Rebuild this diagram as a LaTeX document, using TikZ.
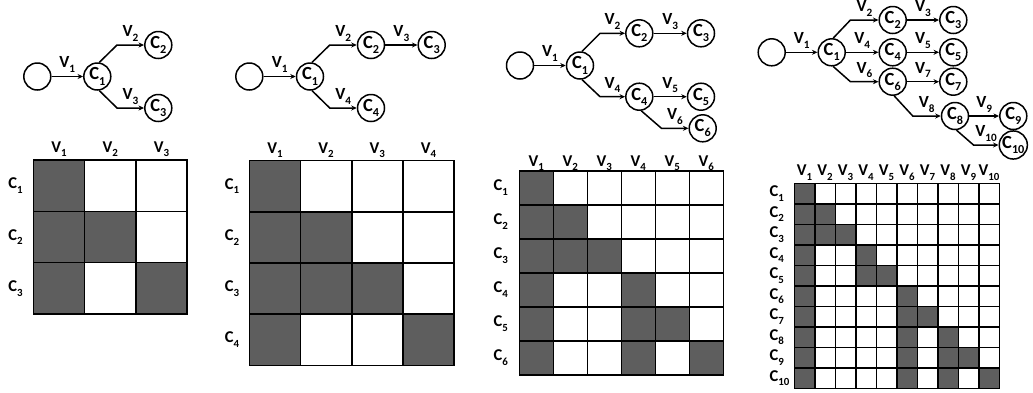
\documentclass[tikz,border=0pt]{standalone}
\usepackage{fontspec}
\setmainfont{Carlito}[BoldFont={Carlito Bold}]
\usetikzlibrary{arrows.meta}
\definecolor{cellgray}{RGB}{94,94,94}
% letter with a lowered, smaller index
\newcommand\ix[3][0.66]{\textbf{#2}\raisebox{-0.28em}{\scalebox{#1}{\textbf{#3}}}}
% matrix: x0, y0, cell size, order, filled cells row/col, prefix, header gap
\newcommand\drawmat[7]{%
  \foreach \r/\c in {#5}
    \fill[cellgray] ({#1+(\c-1)*#3},{#2+(\r-1)*#3}) rectangle ++(#3,#3);
  \foreach \i in {0,...,#4} {
    \draw[gridline] ({#1+\i*#3},#2) -- ++(0,{#4*#3});
    \draw[gridline] (#1,{#2+\i*#3}) -- ++({#4*#3},0);
  }
  \foreach \i in {1,...,#4}
    \node[mlab,anchor=base] (#6v\i) at ({#1+(\i-0.5)*#3},{#2-#7}) {\ix{V}{\i}};
}
\tikzset{
  x=1pt, y=-1pt,
  state/.style={circle, draw, line width=1.5pt, minimum size=27pt, inner sep=0pt,
    font=\fontsize{18.5}{18.5}\selectfont\bfseries},
  arr/.style={line width=1.5pt, -{Stealth[length=5.5pt,width=5pt]}},
  lab/.style={above, inner sep=0pt, yshift=3pt, font=\fontsize{17}{17}\selectfont\bfseries},
  mlab/.style={font=\fontsize{16.5}{16.5}\selectfont\bfseries, inner sep=0pt},
  gridline/.style={line width=1.6pt, line cap=rect},
}
\begin{document}
\begin{tikzpicture}
\useasboundingbox (0,0) rectangle (1033,392);

% ---------- first tree ----------
\node[state] (a0) at (37.3,76.5) {};
\node[state] (a1) at (97.3,76.5) {\ix{C}{1}};
\node[state] (a2) at (158.3,45) {\ix{C}{2}};
\node[state] (a3) at (158.3,108) {\ix{C}{3}};
\draw[arr] (a0) -- node[lab]{\ix{V}{1}} (a1);
\draw[arr] (a1.82) -- ([xshift=-27pt]a2.west) -- node[lab]{\ix{V}{2}} (a2.west);
\draw[arr] (a1.-82) -- ([xshift=-27pt]a3.west) -- node[lab]{\ix{V}{3}} (a3.west);

\drawmat{33.3}{160}{51.33}{3}{1/1,2/1,2/2,3/1,3/3}{am}{8}
\foreach \i in {1,...,3}
  \node[mlab] (amc\i) at (15.5,{160+(\i-0.5)*51.33}) {\ix{C}{\i}};

% ---------- second tree ----------
\node[state] (b0) at (249.3,76.5) {};
\node[state] (b1) at (310,76.5) {\ix{C}{1}};
\node[state] (b2) at (371,45) {\ix{C}{2}};
\node[state] (b3) at (431.7,45) {\ix{C}{3}};
\node[state] (b4) at (371,108) {\ix{C}{4}};
\draw[arr] (b0) -- node[lab]{\ix{V}{1}} (b1);
\draw[arr] (b1.82) -- ([xshift=-27pt]b2.west) -- node[lab]{\ix{V}{2}} (b2.west);
\draw[arr] (b2) -- node[lab]{\ix{V}{3}} (b3);
\draw[arr] (b1.-82) -- ([xshift=-27pt]b4.west) -- node[lab]{\ix{V}{4}} (b4.west);

\drawmat{249.3}{160.5}{51.2}{4}{1/1,2/1,2/2,3/1,3/2,3/3,4/1,4/4}{bm}{7.5}
\foreach \i in {1,...,4}
  \node[mlab] (bmc\i) at (232,{160.5+(\i-0.5)*51.2}) {\ix{C}{\i}};

% ---------- third tree ----------
\node[state] (c0) at (520,65.5) {};
\node[state] (c1) at (580,65.5) {\ix{C}{1}};
\node[state] (c2) at (639.3,33.3) {\ix{C}{2}};
\node[state] (c3) at (701,33.3) {\ix{C}{3}};
\node[state] (c4) at (639.3,96.7) {\ix{C}{4}};
\node[state] (c5) at (701,96.7) {\ix{C}{5}};
\node[state] (c6) at (702.7,128.3) {\ix{C}{6}};
\draw[arr] (c0) -- node[lab]{\ix{V}{1}} (c1);
\draw[arr] (c1.82) -- ([xshift=-25pt]c2.west) -- node[lab]{\ix{V}{2}} (c2.west);
\draw[arr] (c2) -- node[lab]{\ix{V}{3}} (c3);
\draw[arr] (c1.-82) -- ([xshift=-25pt]c4.west) -- node[lab]{\ix{V}{4}} (c4.west);
\draw[arr] (c4) -- node[lab]{\ix{V}{5}} (c5);
\draw[arr] (c4.-82) -- ([xshift=-27pt]c6.west) -- node[lab]{\ix{V}{6}} (c6.west);

\drawmat{519.3}{170.7}{34}{6}{1/1,2/1,2/2,3/1,3/2,3/3,4/1,4/4,5/1,5/4,5/5,6/1,6/4,6/6}{cm}{4.5}
\foreach \i in {1,...,6}
  \node[mlab] (cmc\i) at (500.7,{170.7+(\i-0.5)*34}) {\ix{C}{\i}};

% ---------- fourth tree ----------
\node[state] (d0) at (771.7,52.3) {};
\node[state] (d1) at (831.7,52.3) {\ix{C}{1}};
\node[state] (d2) at (892.7,20) {\ix{C}{2}};
\node[state] (d3) at (953.3,20) {\ix{C}{3}};
\node[state] (d4) at (892.7,52.3) {\ix{C}{4}};
\node[state] (d5) at (953.3,52.3) {\ix{C}{5}};
\node[state] (d6) at (892.7,81.7) {\ix{C}{6}};
\node[state] (d7) at (953.3,81.7) {\ix{C}{7}};
\node[state] (d8) at (955,116) {\ix{C}{8}};
\node[state] (d9) at (1013.3,116) {\ix{C}{9}};
\node[state] (d10) at (1013.3,145) {\ix{C}{10}};
\draw[arr] (d0) -- node[lab]{\ix{V}{1}} (d1);
\draw[arr] (d1.84) -- ([xshift=-28pt]d2.west) -- node[lab]{\ix{V}{2}} (d2.west);
\draw[arr] (d2) -- node[lab]{\ix{V}{3}} (d3);
\draw[arr] (d1) -- node[lab]{\ix{V}{4}} (d4);
\draw[arr] (d4) -- node[lab]{\ix{V}{5}} (d5);
\draw[arr] (d1.-84) -- ([xshift=-28pt]d6.west) -- node[lab]{\ix{V}{6}} (d6.west);
\draw[arr] (d6) -- node[lab]{\ix{V}{7}} (d7);
\draw[arr] (d6.-84) -- ([xshift=-28pt]d8.west) -- node[lab]{\ix{V}{8}} (d8.west);
\draw[arr] (d8) -- node[lab]{\ix{V}{9}} (d9);
\draw[arr] (d8.-84) -- ([xshift=-25pt]d10.west) -- node[lab]{\ix{V}{10}} (d10.west);

\drawmat{794.3}{183.3}{20.5}{10}{1/1,2/1,2/2,3/1,3/2,3/3,4/1,4/4,5/1,5/4,5/5,6/1,6/6,7/1,7/6,7/7,8/1,8/6,8/8,9/1,9/6,9/8,9/9,10/1,10/6,10/8,10/10}{dm}{7.5}
\foreach \i in {1,...,10}
  \node[mlab,anchor=west] (dmc\i) at (769.5,{183.3+(\i-0.5)*20.5}) {\ix{C}{\i}};
\end{tikzpicture}
\end{document}
